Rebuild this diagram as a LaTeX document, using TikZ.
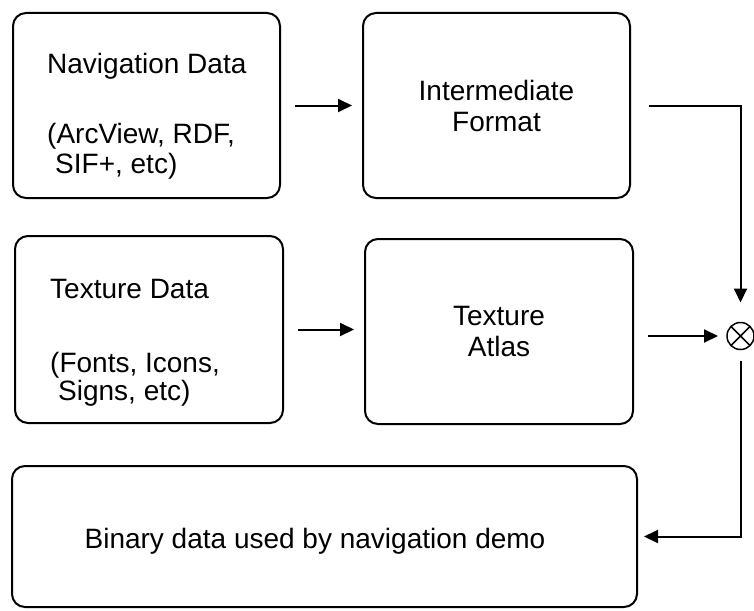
\documentclass[tikz,border=0pt]{standalone}
\usepackage{fontspec}
\setmainfont{Liberation Sans}
\usetikzlibrary{arrows.meta}
\begin{document}
\begin{tikzpicture}[x=1pt,y=-1pt,
  box/.style={draw=black, line width=2pt, rounded corners=13pt, inner sep=0pt},
  txt/.style={font=\fontsize{28}{31}\selectfont, inner sep=0pt},
  line/.style={txt, anchor=base west},
  arr/.style={line width=2pt, -{Triangle[length=14pt,width=13pt]}},
  mulop/.style={draw=black, circle, line width=1.5pt, minimum size=27pt, inner sep=0pt, outer sep=0pt}
]
\fill[white] (0,0) rectangle (754,610);
\useasboundingbox (0,0) rectangle (754,610);

\node[box, minimum width=267pt, minimum height=185pt] (nav) at (146.5,105.5) {};
\node[box, minimum width=267pt, minimum height=185pt, txt, align=center] (inter) at (496.5,105.5) {Intermediate\\Format};
\node[box, minimum width=268pt, minimum height=187pt] (tex) at (149,329.5) {};
\node[box, minimum width=268pt, minimum height=185pt, txt, align=center] (atlas) at (499,331.5) {Texture\\Atlas};
\node[box, minimum width=625pt, minimum height=141pt] (bin) at (324.5,536.5) {};
\node[txt, anchor=base] (bintxt) at (315,548) {Binary data used by navigation demo};
\node[mulop] (mul) at (740.5,336) {};
\draw[line width=1.5pt] (mul.north west) -- (mul.south east) (mul.north east) -- (mul.south west);

\node[line] (nav1) at (47,73) {Navigation Data};
\node[line] (nav2) at (47,143) {(ArcView, RDF,};
\node[line] (nav3) at (55,173) {SIF+, etc)};
\node[line] (tex1) at (50,298) {Texture Data};
\node[line] (tex2) at (50,372) {(Fonts, Icons,};
\node[line] (tex3) at (58,400) {Signs, etc)};

\draw[arr, shorten <=14pt, shorten >=10pt] (nav.east) -- (inter.west);
\draw[arr, shorten <=14pt, shorten >=10pt] (tex.east) -- (tex.east -| atlas.west);
\draw[arr, shorten <=14pt, shorten >=9pt] (atlas.east |- mul.west) -- (mul.west);
\draw[arr, shorten <=18pt, shorten >=20pt] (inter.east) -| (mul.north);
\draw[arr, shorten <=11pt, shorten >=6pt] (mul.south) |- (bin.east);
\end{tikzpicture}
\end{document}
